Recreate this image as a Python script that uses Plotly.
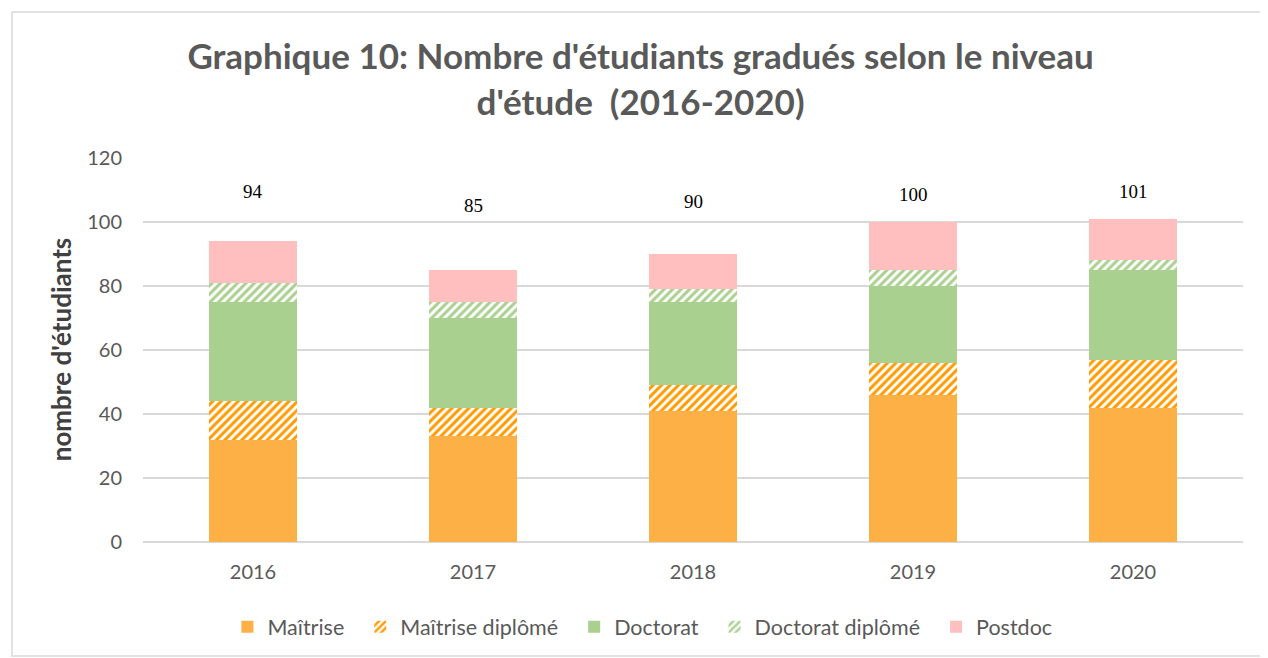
import plotly.graph_objects as go

years = ["2016", "2017", "2018", "2019", "2020"]
maitrise = [32, 33, 41, 46, 42]
maitrise_dipl = [12, 9, 8, 10, 15]
doctorat = [31, 28, 26, 24, 28]
doctorat_dipl = [6, 5, 4, 5, 3]
postdoc = [13, 10, 11, 15, 13]
totals = [94, 85, 90, 100, 101]
label_shift = [50, 64, 52, 27, 27]

# page has an 8px body margin: compensate so plot lands where the reference is
W, H = 1260, 650
L, R, T, B = 135, 25, 149, 116
pw, ph = W - L - R, H - T - B

PAD = "\u00a0\u00a0"

fig = go.Figure()
series = [
    ("Maîtrise", maitrise, "#FCB045", None),
    ("Maîtrise diplômé", maitrise_dipl, "#FF9A00", "/"),
    ("Doctorat", doctorat, "#A9D08E", None),
    ("Doctorat diplômé", doctorat_dipl, "#A9D08E", "/"),
    ("Postdoc", postdoc, "#FFBFBF", None),
]
for name, vals, col, pat in series:
    if pat:
        marker = dict(color="white", line=dict(width=0),
                      pattern=dict(shape=pat, fgcolor=col, bgcolor="white", fgopacity=1,
                                   size=6, solidity=0.5, fillmode="replace"))
    else:
        marker = dict(color=col, line=dict(width=0))
    fig.add_trace(go.Bar(x=years, y=vals, name=name + PAD, marker=marker))

for i, (tot, sh) in enumerate(zip(totals, label_shift)):
    fig.add_annotation(x=i, y=tot, text=str(tot), showarrow=False,
                       yshift=sh, yanchor="middle",
                       font=dict(family="Liberation Serif", size=19, color="#000000"))

fig.add_shape(type="rect", xref="paper", yref="paper",
              x0=(4 - L) / pw, x1=(1258 - L) / pw,
              y0=-(648 - T - ph) / ph, y1=1 + (T - 4) / ph,
              line=dict(color="#D9D9D9", width=1.5), fillcolor="rgba(0,0,0,0)", layer="below")

fig.update_layout(
    width=W, height=H,
    margin=dict(l=L, r=R, t=T, b=B, autoexpand=False),
    barmode="stack", bargap=0.6,
    plot_bgcolor="white", paper_bgcolor="white",
    title=dict(text="Graphique 10: Nombre d'étudiants gradués selon le niveau<br>d'étude  (2016-2020)",
               x=0.502, xanchor="center", y=0.906, yanchor="top", yref="container",
               font=dict(family="Lato", size=35, color="#595959", weight="bold")),
    font=dict(family="Lato", color="#595959", size=20),
    yaxis=dict(range=[0, 120.3], tickvals=[0, 20, 40, 60, 80, 100, 120],
               gridcolor="#D9D9D9", gridwidth=1.5, automargin=False,
               zeroline=True, zerolinecolor="#D9D9D9", zerolinewidth=1.5,
               tickfont=dict(size=20, color="#595959"), ticklabelstandoff=20,
               title=dict(text="nombre d'étudiants", standoff=8,
                          font=dict(size=26, color="#404040", weight="bold"))),
    xaxis=dict(type="category", range=[-0.5, 4.5], tickfont=dict(size=20, color="#595959"),
               showline=False, automargin=False, ticklabelstandoff=16),
    legend=dict(orientation="h", x=0.459, xanchor="center", y=-0.22, yanchor="middle",
                font=dict(size=21.5, color="#595959"), traceorder="normal",
                itemwidth=30),
)

fig.write_html("out.html")
